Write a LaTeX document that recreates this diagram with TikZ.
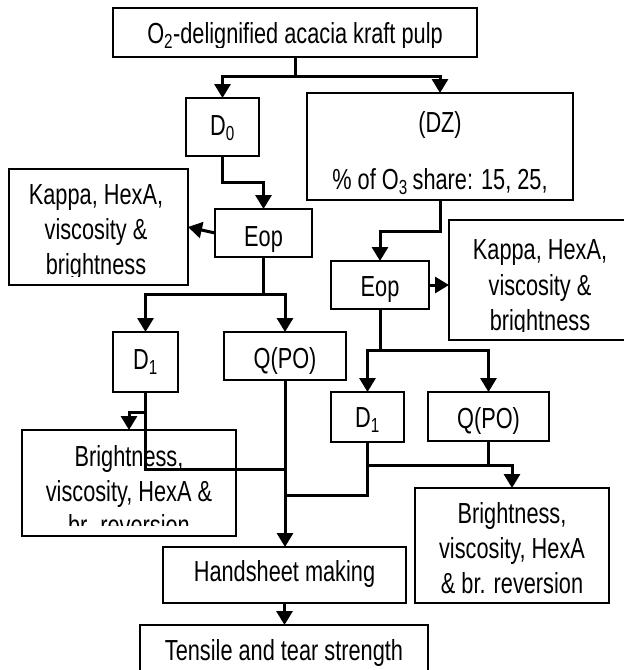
\documentclass[tikz,border=0pt]{standalone}
\usepackage{fontspec}
\setmainfont{Liberation Sans}[FakeStretch=0.75]
\usetikzlibrary{arrows.meta}
\begin{document}
\begin{tikzpicture}[x=1pt,y=-1pt,
  box/.style={draw, line width=1.8pt, inner sep=0pt, outer sep=0pt},
  txt/.style={anchor=base, inner sep=0pt, font=\fontsize{29}{35}\selectfont},
  conn/.style={line width=3pt},
  arr/.style={line width=3pt, -{Triangle[width=16pt,length=14pt]}}]
\useasboundingbox (0,0) rectangle (624,670);
\clip (0,0) rectangle (624,670);
% boxes
\node[box, minimum width=364pt, minimum height=49pt] (top) at (295,32.5) {};
\node[box, minimum width=73pt, minimum height=58pt] (d0) at (222.5,127) {};
\node[box, minimum width=266pt, minimum height=107pt] (dz) at (440,146.5) {};
\node[box, minimum width=179pt, minimum height=116pt] (k1) at (98.5,227) {};
\node[box, minimum width=97pt, minimum height=48pt] (eop1) at (263.5,233) {};
\node[box, minimum width=98pt, minimum height=48pt] (eop2) at (380,285) {};
\node[box, minimum width=182pt, minimum height=120pt] (k2) at (540,280) {};
\node[box, minimum width=65pt, minimum height=60pt] (d1a) at (145.5,362) {};
\node[box, minimum width=122pt, minimum height=48pt] (qa) at (285,356) {};
\node[box, minimum width=73pt, minimum height=50pt] (d1b) at (367.5,417) {};
\node[box, minimum width=121pt, minimum height=49pt] (qb) at (488.5,416.5) {};
\node[box, minimum width=214pt, minimum height=106pt] (bra) at (129,483) {};
\node[box, minimum width=194pt, minimum height=115pt] (brb) at (512,545.5) {};
\node[box, minimum width=243pt, minimum height=56pt] (hs) at (284.5,575) {};
\node[box, minimum width=288pt, minimum height=65pt] (ts) at (284,657.5) {};
% texts
\begin{scope}\clip (113,8) rectangle (477,47);
\node[txt] (toptxt) at (295,43) {O\textsubscript{2}-delignified acacia kraft pulp};
\end{scope}
\node[txt] (d0txt) at (222.5,135) {D\textsubscript{0}};
\node[txt] (dztxta) at (440,132) {(DZ)};
\node[txt] (dztxtb) at (440,189) {\% of O\textsubscript{3}\,share: 15, 25,};
\begin{scope}\clip (9,169) rectangle (188,276);
\node[txt] (k1a) at (96,204) {Kappa, HexA,};
\node[txt] (k1b) at (96,239) {viscosity \&};
\node[txt] (k1c) at (96,274) {brightness};
\end{scope}
\node[txt] (eop1txt) at (263.5,246) {Eop};
\node[txt] (eop2txt) at (380,296) {Eop};
\begin{scope}\clip (449,220) rectangle (631,331);
\node[txt] (k2a) at (540,259) {Kappa, HexA,};
\node[txt] (k2b) at (540,295) {viscosity \&};
\node[txt] (k2c) at (540,330) {brightness};
\end{scope}
\node[txt] (d1atxt) at (145.5,369) {D\textsubscript{1}};
\node[txt] (qatxt) at (285,368) {Q(PO)};
\node[txt] (d1btxt) at (367.5,427) {D\textsubscript{1}};
\node[txt] (qbtxt) at (488.5,428) {Q(PO)};
\begin{scope}\clip (22,430) rectangle (236,525);
\node[txt] (braa) at (129,466) {Brightness,};
\node[txt] (brab) at (129,501) {viscosity, HexA \&};
\node[txt] (brac) at (129,535) {br. reversion};
\end{scope}
\begin{scope}\clip (415,488) rectangle (609,595);
\node[txt] (brba) at (512,523) {Brightness,};
\node[txt] (brbb) at (512,558) {viscosity, HexA};
\node[txt] (brbc) at (512,593) {\& br. reversion};
\end{scope}
\node[txt] (hstxt) at (284.5,581) {Handsheet making};
\node[txt] (tstxt) at (284,660) {Tensile and tear strength};
% connectors
\draw[conn] (top.south) -- ++(0,19) coordinate (j1);
\draw[arr] (j1) -| (d0.north);
\draw[arr] (j1) -| (dz.north);
\draw[arr] (d0.south) -- ++(0,26) -| (eop1.north);
\draw[arr] (eop1.west) -- (k1.east);
\draw[conn] (eop1.south) -- ++(0,37) coordinate (j2);
\draw[arr] (j2) -| (d1a.north);
\draw[arr] (j2) -| (qa.north);
\path (d1a.south) ++(0,20) coordinate (j8);
\draw[conn] (d1a.south) -- ++(0,77) coordinate (j3) -- (j3 -| qa.south);
\draw[arr] (j8) -| (bra.north);
\draw[arr] (qa.south) -- (qa.south |- hs.north);
\draw[arr] (hs.south) -- (hs.south |- ts.north);
\draw[arr] (dz.south) -- ++(0,31) -| (eop2.north);
\draw[arr] (eop2.east) -- (eop2.east -| k2.west);
\draw[conn] (eop2.south) -- ++(0,41) coordinate (j5);
\draw[arr] (j5) -| (d1b.north);
\draw[arr] (j5) -| (qb.north);
\path (d1b.south) ++(0,23) coordinate (j7);
\draw[conn] (d1b.south) -- ++(0,53) coordinate (j6) -- (j6 -| qa.south);
\draw[arr] (j7) -| (brb.north);
\draw[conn] (qb.south) -- (qb.south |- j7);
\end{tikzpicture}
\end{document}
